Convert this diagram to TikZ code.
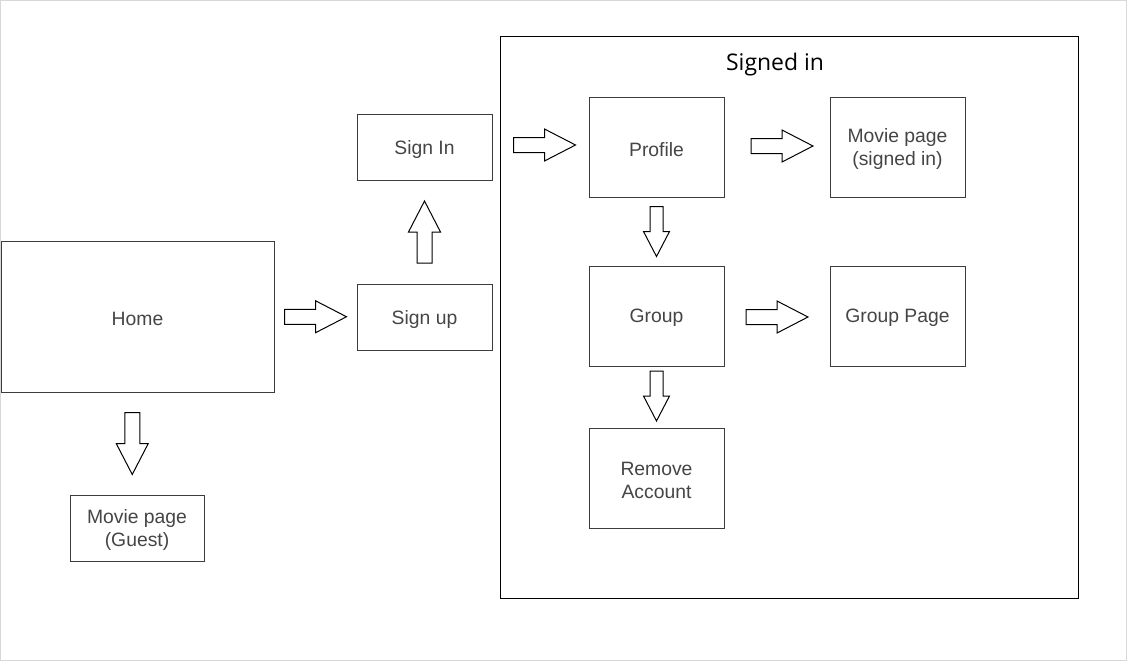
\documentclass[tikz,border=0pt]{standalone}
\usepackage{fontspec}
\setmainfont{Liberation Sans}
\newfontfamily\titlefont{Open Sans}
\usetikzlibrary{calc}
\definecolor{boxgray}{HTML}{3C3C3C}
\definecolor{txtgray}{HTML}{454545}
\definecolor{framegray}{HTML}{D8D8D8}
\def\px{0.75pt}
\tikzset{
  box/.style={draw=boxgray, line width=\px, minimum width=135*\px, minimum height=100*\px,
    inner sep=0pt},
  smallbox/.style={box, minimum height=66*\px},
  boxtxt/.style={inner sep=0pt, align=center, text=txtgray, yshift=-1.6pt,
    font=\fontsize{14.5}{17.3}\selectfont},
  arrowline/.style={draw=black, fill=white, line width=\px, line join=miter},
  blk/.pic={\draw[arrowline] (-31,-7.5) -- (0,-7.5) -- (0,-16) -- (31,0) -- (0,16) -- (0,7.5) -- (-31,7.5) -- cycle;},
  blks/.pic={\draw[arrowline] (-25,-6.5) -- (0,-6.5) -- (0,-13) -- (25,0) -- (0,13) -- (0,6.5) -- (-25,6.5) -- cycle;}
}
\begin{document}
\begin{tikzpicture}[x=0.75pt,y=-0.75pt]
\useasboundingbox (0,0) rectangle (1128,661);
\fill[white] (0,0) rectangle (1128,661);
\draw[framegray, line width=\px] (0.5,0.5) rectangle (1126.5,660.5);

% container
\node[draw=black, line width=\px, minimum width=578*\px, minimum height=562*\px, inner sep=0pt] (cont) at (789,317) {};
\node[font=\titlefont\fontsize{17.2}{20}\selectfont, text=black] (title) at (775,64.5) {Signed in};

% boxes
\node[box, minimum width=273*\px, minimum height=151*\px, label={[boxtxt]center:Home}] (home) at (137.5,316.5) {};
\node[smallbox, minimum width=134*\px, label={[boxtxt]center:{Movie page\\(Guest)}}] (guest) at (137,528) {};
\node[smallbox, label={[boxtxt]center:Sign up}] (signup) at (424.5,317) {};
\node[smallbox, label={[boxtxt]center:Sign In}] (signin) at (424.5,147) {};
\node[box, label={[boxtxt]center:Profile}] (profile) at (656.5,147) {};
\node[box, label={[boxtxt]center:{Movie page\\(signed in)}}] (moviesi) at (897.5,147) {};
\node[box, label={[boxtxt]center:Group}] (group) at (656.5,316) {};
\node[box, label={[boxtxt]center:Group Page}] (grouppage) at (897.5,316) {};
\node[box, label={[boxtxt]center:{Remove\\Account}}] (remove) at (656.5,478) {};

% block arrows between boxes
\coordinate (c1) at ($(home.east)!0.5!(signup.west)$);
\coordinate (c2) at ($(signup.north)!0.5!(signin.south)$);
\coordinate (c3) at ($(signin.east)!0.5!(profile.west)+(4,-2)$);
\coordinate (c4) at ($(profile.east)!0.5!(moviesi.west)+(5,-1)$);
\coordinate (c5) at ($(group.east)!0.5!(grouppage.west)+(0,1)$);
\coordinate (c6) at ($(profile.south)!0.5!(group.north)$);
\coordinate (c7) at ($(group.south)!0.5!(remove.north)+(0,-1)$);
\coordinate (c8) at ($(home.south)!0.5!(guest.north)+(-5,0)$);

\pic at (c1) {blk};
\pic[rotate=90] at (c2) {blk};
\pic at (c3) {blk};
\pic at (c4) {blk};
\pic at (c5) {blk};
\pic[rotate=-90] at (c6) {blks};
\pic[rotate=-90] at (c7) {blks};
\pic[rotate=-90] at (c8) {blk};
\end{tikzpicture}
\end{document}
